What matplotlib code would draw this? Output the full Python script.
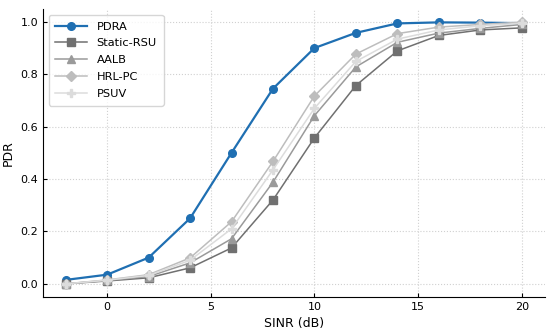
import matplotlib
matplotlib.use("Agg")
import matplotlib.pyplot as plt

sinr = [-2, 0, 2, 4, 6, 8, 10, 12, 14, 16, 18, 20]

pdra = [0.015, 0.035, 0.10, 0.25, 0.50, 0.745, 0.90, 0.958, 0.994, 0.998, 0.997, 0.995]
static_rsu = [0.0, 0.011, 0.023, 0.061, 0.137, 0.32, 0.557, 0.757, 0.889, 0.948, 0.969, 0.977]
aalb = [0.0, 0.013, 0.028, 0.080, 0.172, 0.388, 0.642, 0.828, 0.922, 0.957, 0.975, 0.99]
hrl_pc = [0.0, 0.015, 0.035, 0.099, 0.237, 0.467, 0.717, 0.877, 0.955, 0.98, 0.99, 0.999]
psuv = [0.0, 0.014, 0.032, 0.090, 0.21, 0.435, 0.67, 0.849, 0.934, 0.969, 0.985, 0.995]

series = [
    ("PDRA", pdra, "#1f6fb2", "o"),
    ("Static-RSU", static_rsu, "#707070", "s"),
    ("AALB", aalb, "#9a9a9a", "^"),
    ("HRL-PC", hrl_pc, "#bdbdbd", "D"),
    ("PSUV", psuv, "#dcdcdc", "P"),
]

fig, ax = plt.subplots(figsize=(5.5, 3.34), dpi=100)
for name, vals, col, mk in series:
    lw = 1.6 if name == "PDRA" else 1.1
    ax.plot(sinr, vals, color=col, marker=mk, markersize=5.5, linewidth=lw, label=name)

ax.set_xlabel("SINR (dB)", fontsize=9)
ax.set_ylabel("PDR", fontsize=9)
ax.set_xticks([0, 5, 10, 15, 20])
ax.set_yticks([0.0, 0.2, 0.4, 0.6, 0.8, 1.0])
ax.grid(True, linestyle=":", color="#d0d0d0", linewidth=0.8)
ax.spines["top"].set_visible(False)
ax.spines["right"].set_visible(False)
ax.tick_params(direction="in", labelsize=8, length=3)
ax.legend(loc="upper left", fontsize=8.2, handlelength=2.8, borderpad=0.6,
          labelspacing=0.6, edgecolor="#cccccc")

fig.subplots_adjust(left=0.078, right=0.99, bottom=0.111, top=0.973)
fig.savefig("out.png")
